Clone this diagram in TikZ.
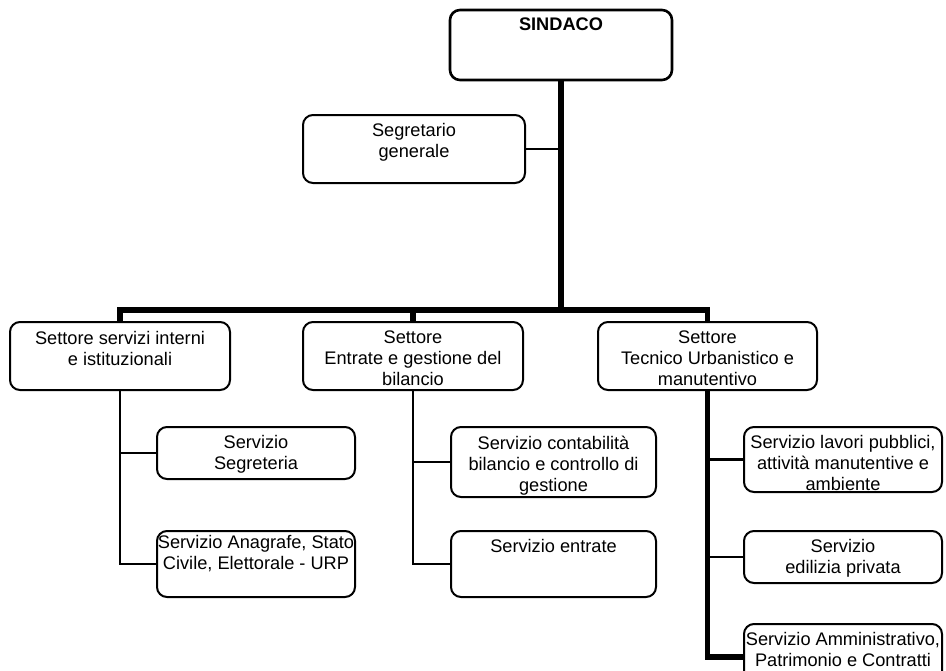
\documentclass[tikz,border=0pt]{standalone}
\usepackage{fontspec}
\setmainfont{Liberation Sans}
\begin{document}
\begin{tikzpicture}[x=1pt,y=-1pt,
    box/.style={draw,line width=2pt,rounded corners=10pt,inner sep=0pt},
    txt/.style={anchor=north,inner sep=0pt,yshift=-9.5pt,align=center,
      font=\fontsize{18.2}{21}\selectfont},
    thk/.style={line width=5.5pt},
    thn/.style={line width=2.6pt}]
                \useasboundingbox (0,0) rectangle (946,670);
                \clip (0,0) rectangle (946,670);

                \node[box, line width=2.6pt, minimum width=222pt, minimum height=70pt,
                  label={[txt,yshift=1pt]north:\textbf{SINDACO}}] (sindaco) at (561,45) {};
                \node[box, minimum width=222pt, minimum height=68pt,
                  label={[txt]north:Segretario\\generale}] (segr) at (414,149) {};

                \node[box, minimum width=220pt, minimum height=68pt,
                  label={[txt,yshift=-1pt]north:Settore servizi interni\\e istituzionali}] (set1) at (120,356) {};
                \node[box, minimum width=220pt, minimum height=68pt,
                  label={[txt]north:Settore\\Entrate e gestione del\\bilancio}] (set2) at (413,356) {};
                \node[box, minimum width=219pt, minimum height=68pt,
                  label={[txt]north:Settore\\Tecnico Urbanistico e\\manutentivo}] (set3) at (707.5,356) {};

                \node[box, minimum width=198pt, minimum height=52pt,
                  label={[txt]north:Servizio\\Segreteria}] (sgr) at (256,453) {};
                \node[box, minimum width=198pt, minimum height=66pt,
                  label={[txt,yshift=4pt]north:Servizio Anagrafe, Stato\\Civile, Elettorale - URP}] (anag) at (256,564) {};

                \node[box, minimum width=205pt, minimum height=70pt,
                  label={[txt]north:Servizio contabilità\\bilancio e controllo di\\gestione}] (cont) at (553.5,462) {};
                \node[box, minimum width=205pt, minimum height=66pt,
                  label={[txt]north:Servizio entrate}] (entr) at (553.5,564) {};

                \node[box, minimum width=198pt, minimum height=65pt,
                  label={[txt]north:Servizio lavori pubblici,\\attività manutentive e\\ambiente}] (lav) at (843,459.5) {};
                \node[box, minimum width=198pt, minimum height=52pt,
                  label={[txt]north:Servizio\\edilizia privata}] (edil) at (843,557) {};
                \node[box, minimum width=198pt, minimum height=66pt,
                  label={[txt]north:Servizio Amministrativo,\\Patrimonio e Contratti}] (amm) at (843,657) {};

                \coordinate (hub) at (561,310);

                \draw[thk] (sindaco.south) -- (hub);
                \draw[thn] (segr.east) -- (segr.east -| hub);
                \draw[thk] (set1.north) -- (set1.north |- hub) -- (set3.north |- hub) -- (set3.north);
                \draw[thk] (set2.north) -- (set2.north |- hub);

                \draw[thn] (set1.south) |- (anag.west);
                \draw[thn] (sgr.west) -- (sgr.west -| set1.south);
                \draw[thn] (set2.south) |- (entr.west);
                \draw[thn] (cont.west) -- (cont.west -| set2.south);
                \draw[thk] (set3.south) |- (amm.west);
                \draw[thn] (lav.west) -- (lav.west -| set3.south);
                \draw[thn] (edil.west) -- (edil.west -| set3.south);
            \end{tikzpicture}
\end{document}
